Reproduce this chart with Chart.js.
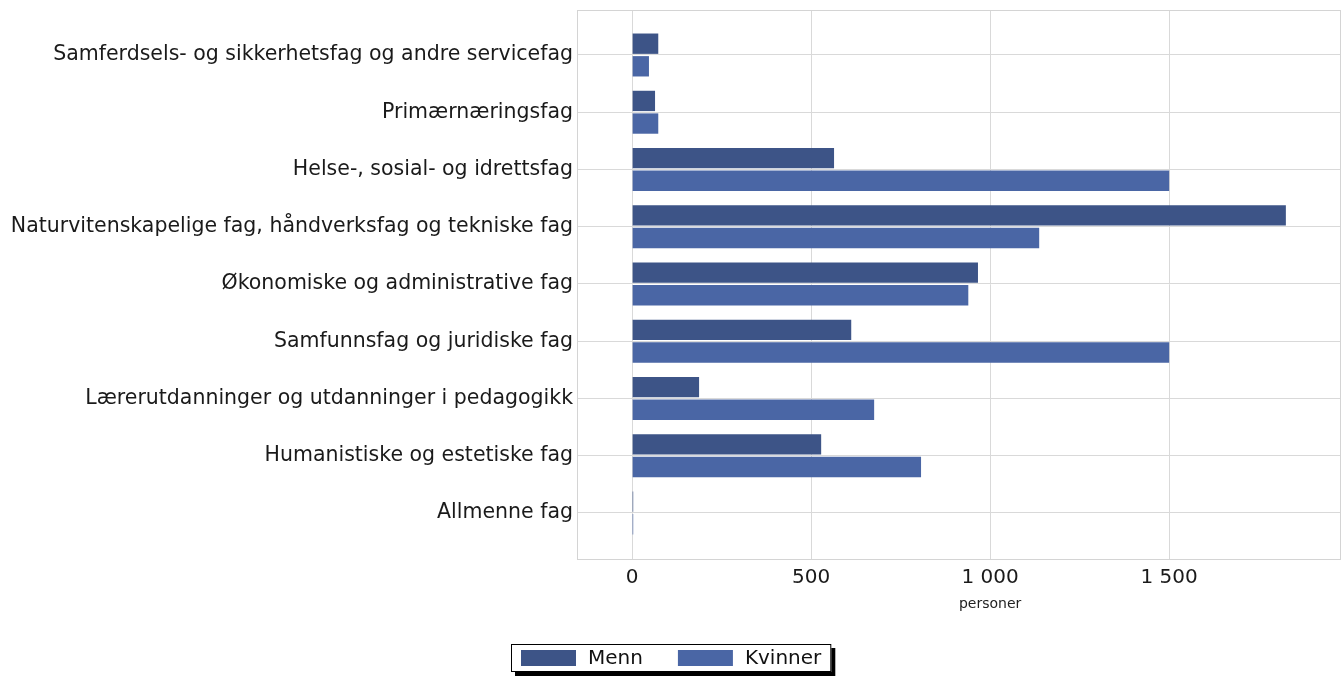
<!DOCTYPE html>
<html>
<head>
<meta charset="utf-8">
<script src="https://cdn.jsdelivr.net/npm/chart.js@4/dist/chart.umd.min.js"></script>
<style>
  html, body { margin: 0; padding: 0; background: #fff; overflow: hidden; }
  #wrap { width: 1342px; height: 679px; }
</style>
</head>
<body>
<div id="wrap"><canvas id="chart"></canvas></div>
<script>
// categories top to bottom
const categories = [
    'Samferdsels- og sikkerhetsfag og andre servicefag',
    'Primærnæringsfag',
    'Helse-, sosial- og idrettsfag',
    'Naturvitenskapelige fag, håndverksfag og tekniske fag',
    'Økonomiske og administrative fag',
    'Samfunnsfag og juridiske fag',
    'Lærerutdanninger og utdanninger i pedagogikk',
    'Humanistiske og estetiske fag',
    'Allmenne fag'
];
const menn    = [73, 64, 564, 1826, 966, 612, 187, 528, 3];
const kvinner = [47, 73, 1500, 1137, 939, 1500, 676, 807, 3];
const xTicks  = [0, 500, 1000, 1500];
const seriesNames  = ['Menn', 'Kvinner'];
const seriesColors = ['#3d5487', '#4a66a5'];
const axisTitle = 'personer';

const FONT = 'DejaVu Sans';

// frame around the plot area
const framePlugin = {
    id: 'frame',
    beforeDatasetsDraw(chart) {
        const a = chart.chartArea, c = chart.ctx;
        c.save();
        c.strokeStyle = '#d4d4d4';
        c.lineWidth = 1;
        c.strokeRect(Math.round(a.left) + 0.5, Math.round(a.top) + 0.5,
            Math.round(a.right - a.left) - 1, Math.round(a.bottom - a.top));
        c.restore();
    }
};

// x axis title and boxed legend with shadow
const extrasPlugin = {
    id: 'extras',
    afterDraw(chart) {
        const c = chart.ctx;
        c.save();
        c.fillStyle = '#222';
        c.font = '14px ' + FONT;
        c.textAlign = 'center';
        c.textBaseline = 'middle';
        c.fillText(axisTitle, chart.scales.x.getPixelForValue(1000), 604);

        c.font = '20px ' + FONT;
        const sw = 55, sh = 16, gap = 12, between = 35, pad = 10;
        const widths = chart.data.datasets.map(d => c.measureText(d.label).width);
        let w = pad;
        widths.forEach((tw, i) => { w += sw + gap + tw + (i < widths.length - 1 ? between : pad); });
        const left = Math.round(chart.width / 2 - w / 2), top = 644, h = 28;
        c.fillStyle = '#000';
        c.fillRect(left + 4, top + 4, w, h);
        c.fillStyle = '#fff';
        c.fillRect(left, top, w, h);
        c.strokeStyle = '#000';
        c.lineWidth = 1;
        c.strokeRect(left + 0.5, top + 0.5, w - 1, h - 1);
        let x = left + pad;
        c.textAlign = 'left';
        chart.data.datasets.forEach((d, i) => {
            c.fillStyle = d.backgroundColor;
            c.fillRect(x, top + 6, sw, sh);
            x += sw + gap;
            c.fillStyle = '#111';
            c.fillText(d.label, x, top + h / 2 + 1);
            x += widths[i] + between;
        });
        c.restore();
    }
};

const ctx = document.getElementById('chart').getContext('2d');
new Chart(ctx, {
    type: 'bar',
    data: {
        datasets: [
            {
                label: seriesNames[0],
                data: menn.map((v, i) => ({ x: v, y: i })),
                backgroundColor: seriesColors[0]
            },
            {
                label: seriesNames[1],
                data: kvinner.map((v, i) => ({ x: v, y: i })),
                backgroundColor: seriesColors[1]
            }
        ]
    },
    options: {
        indexAxis: 'y',
        responsive: true,
        maintainAspectRatio: false,
        animation: false,
        categoryPercentage: 0.79,
        barPercentage: 0.9,
        layout: { padding: { top: 10, right: 1, left: 0, bottom: 0 } },
        plugins: {
            legend: { display: false },
            tooltip: { enabled: false }
        },
        scales: {
            y: {
                type: 'linear',
                reverse: true,
                offset: false,
                bounds: 'data',
                min: -0.786,
                max: 8.804,
                afterFit: s => { s.width = 577; s.paddingTop = 0; s.paddingBottom = 0; },
                afterBuildTicks: s => { s.ticks = categories.map((c, i) => ({ value: i })); },
                grid: { color: '#d9d9d9', drawTicks: false, offset: false },
                border: { display: false },
                ticks: {
                    autoSkip: false,
                    padding: 4,
                    color: '#1a1a1a',
                    font: { family: FONT, size: 20.5 },
                    callback: v => categories[v] ?? ''
                }
            },
            x: {
                type: 'linear',
                bounds: 'data',
                min: -154,
                max: 1980,
                afterFit: s => { s.height = 120; s.paddingLeft = 0; s.paddingRight = 0; },
                afterBuildTicks: s => { s.ticks = xTicks.map(v => ({ value: v })); },
                grid: { color: '#d9d9d9', drawTicks: false },
                border: { display: false },
                ticks: {
                    padding: 7,
                    color: '#1a1a1a',
                    font: { family: FONT, size: 20 },
                    callback: v => String(v).replace(/\B(?=(\d{3})+(?!\d))/g, ' ')
                }
            }
        }
    },
    plugins: [framePlugin, extrasPlugin]
});
</script>
</body>
</html>
